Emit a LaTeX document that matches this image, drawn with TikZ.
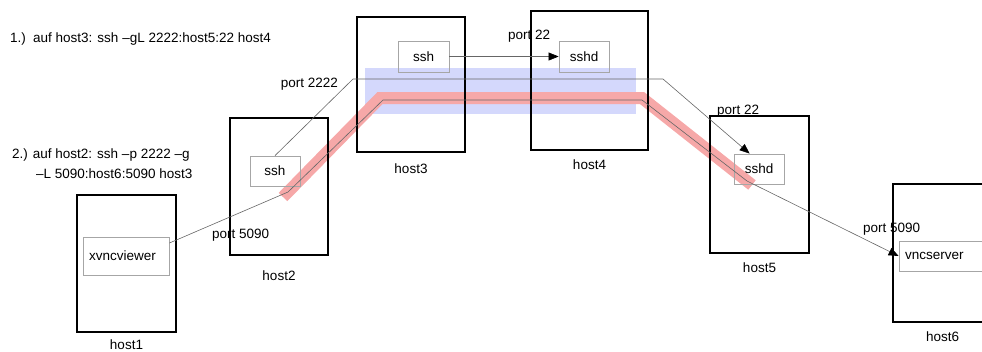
\documentclass[tikz,border=0pt]{standalone}
\usepackage{fontspec}
\setmainfont{Liberation Sans}
\usepackage{tikz}
\usetikzlibrary{arrows.meta,positioning}
\definecolor{tunnelred}{RGB}{246,168,168}
\definecolor{tunnelblue}{RGB}{212,216,252}

\begin{document}
\begin{tikzpicture}[x=1pt,y=-1pt,
  every node/.style={font=\fontsize{13.5}{16}\selectfont},
  host/.style={draw, line width=1.3pt, inner sep=0},
  hostlbl/.style={inner sep=0, label distance=#1},
  proc/.style={draw=black!35, line width=0.8pt, inner xsep=6pt},
  link/.style={draw=black!60, line width=0.6pt},
  tip/.style={-{Triangle[length=10pt,width=8pt,color=black]}},
  txt/.style={inner sep=0}]
\useasboundingbox (0,0) rectangle (982,351);
\clip (0,0) rectangle (982,351);

% tunnels
\fill[tunnelblue] (365,68) rectangle (636,114);
\draw[tunnelred, line width=12pt] (283,197) -- (380,98) -- (642,98) -- (752,185);

% hosts
\node[host, minimum width=99, minimum height=137, label={[hostlbl=7pt]below:host1}] (host1) at (126.5,263.5) {};
\node[host, minimum width=98, minimum height=137, label={[hostlbl=15pt]below:host2}] (host2) at (279,186.5) {};
\node[host, minimum width=108, minimum height=135, label={[hostlbl=11pt]below:host3}] (host3) at (411,84.5) {};
\node[host, minimum width=117, minimum height=139, label={[hostlbl=9pt]below:host4}] (host4) at (589.5,80.5) {};
\node[host, minimum width=99, minimum height=137, label={[hostlbl=9pt]below:host5}] (host5) at (759.5,184.5) {};
\node[host, minimum width=99, minimum height=138, label={[hostlbl=9pt]below:host6}] (host6) at (942.5,253) {};

% programs
\node[proc, minimum width=86, minimum height=38, text width=74, align=left] (viewer) at (126,256) {xvncviewer};
\node[proc, minimum width=50, minimum height=30] (ssh2) at (275,171) {ssh};
\node[proc, minimum width=51, minimum height=31] (ssh3) at (423.5,56.5) {ssh};
\node[proc, minimum width=50, minimum height=31] (sshd4) at (584,56.5) {sshd};
\node[proc, minimum width=50, minimum height=30] (sshd5) at (759,169) {sshd};
\node[proc, minimum width=100, minimum height=30, text width=88, align=left] (vncsrv) at (949,256) {vncserver};

% commands
\node[txt, anchor=base west] (cmd1) at (10,42) {1.)\, auf host3: ssh –gL 2222:host5:22 host4};
\node[txt, anchor=base west] (cmd2a) at (12,158) {2.) auf host2: ssh –p 2222 –g};
\node[txt, anchor=base west] (cmd2b) at (36,178) {–L 5090:host6:5090 host3};

% ports
\node[txt, anchor=base east] (p2222) at (338,87) {port 2222};
\node[txt, anchor=base west] (p22a) at (508,39) {port 22};
\node[txt, anchor=base west] (p22b) at (717,114) {port 22};
\node[txt, anchor=base west] (p5090a) at (212,238) {port 5090};
\node[txt, anchor=base west] (p5090b) at (863,232) {port 5090};

% connections
\draw[link, tip] (ssh3) -- (sshd4);
\draw[link, tip] (ssh2.north) -- (353,79) -- (663,79) -- ([xshift=16pt]sshd5.north west);
\draw[link, tip] ([yshift=13pt]viewer.east) -- (288,192) -- (383,100) -- (642,100) -- (747,181) -- (vncsrv.west);
\end{tikzpicture}
\end{document}
